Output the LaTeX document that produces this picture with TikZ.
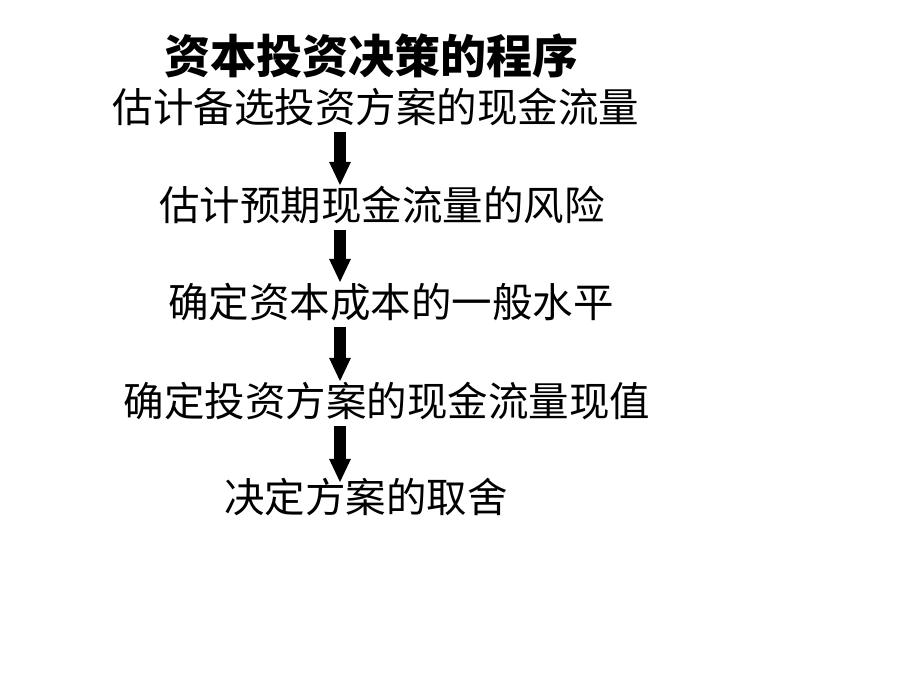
\documentclass[tikz,border=0pt]{standalone}
\usepackage{fontspec}
\setmainfont{Noto Sans CJK SC}
\usetikzlibrary{arrows.meta}

\begin{document}
\begin{tikzpicture}[x=1pt,y=-1pt,>={Triangle[length=24pt,width=20pt]}]
                \tikzset{every node/.style={inner sep=0pt, text height=35pt, text depth=5pt},
                         stage/.style={font=\fontsize{40.5pt}{44pt}\selectfont},
                         heading/.style={font=\fontsize{46pt}{50pt}\selectfont\bfseries},
                         flow/.style={->, line width=12pt, shorten <=5pt, shorten >=-1pt}}
                \useasboundingbox (0,0) rectangle (920,690);
                \node[heading] (T) at (371,59) {资本投资决策的程序};
                \node[stage] (S1) at (376,107) {估计备选投资方案的现金流量};
                \node[stage] (S2) at (382,205) {估计预期现金流量的风险};
                \node[stage] (S3) at (391,302) {确定资本成本的一般水平};
                \node[stage] (S4) at (387,401) {确定投资方案的现金流量现值};
                \node[stage] (S5) at (366,497) {决定方案的取舍};
                \coordinate (axis) at (340,0);
                \path (S1.south -| axis) edge[flow] (S2.north -| axis);
                \path (S2.south -| axis) edge[flow] (S3.north -| axis);
                \path (S3.south -| axis) edge[flow] (S4.north -| axis);
                \path (S4.south -| axis) edge[flow, shorten >=-6pt] (S5.north -| axis);
            \end{tikzpicture}
\end{document}
